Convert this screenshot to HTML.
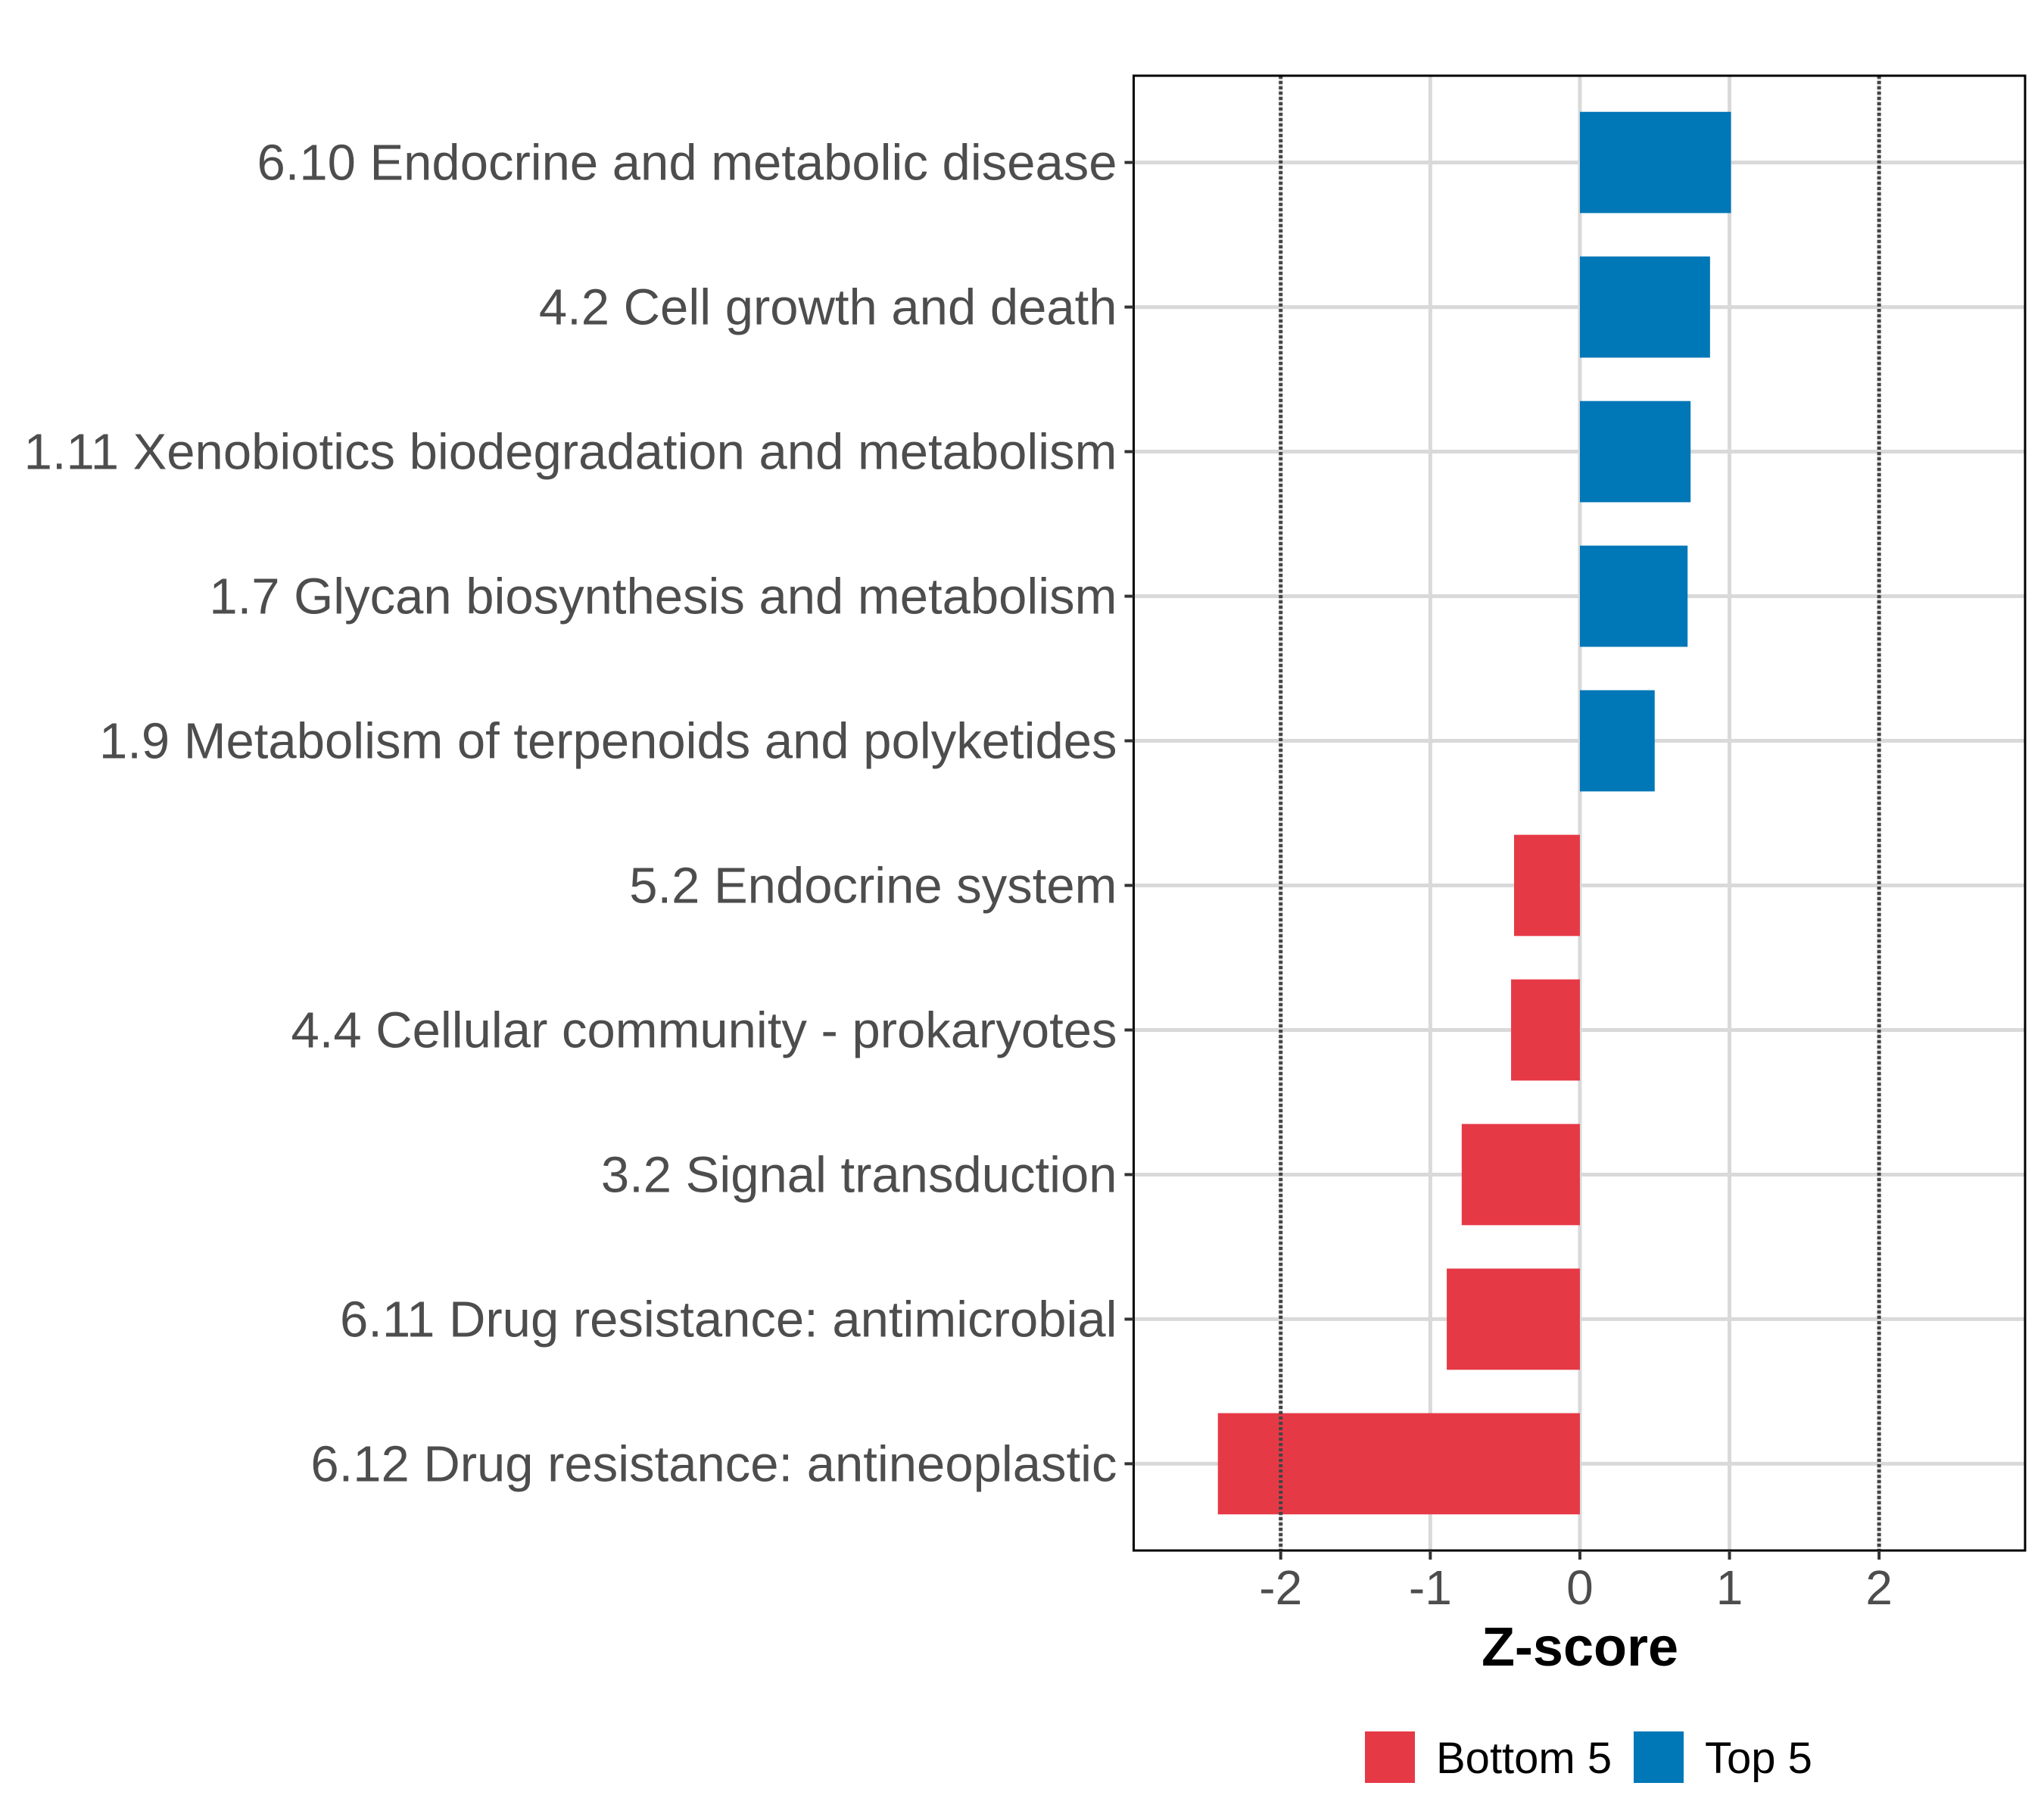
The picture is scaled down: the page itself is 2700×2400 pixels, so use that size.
<!DOCTYPE html>
<html><head><meta charset="utf-8"><style>
html,body{margin:0;padding:0;background:#fff;}
svg{display:block;font-family:"Liberation Sans",sans-serif;}
</style></head><body>
<svg id="chart" width="2700" height="2400" viewBox="0 0 2700 2400">
<g id="grid"></g>
<g id="bars"></g>
<g id="axes"></g>
<text x="2087" y="2200" text-anchor="middle" font-size="72" font-weight="bold" fill="#000">Z-score</text>
<g>
<rect x="1803" y="2287" width="66" height="68" fill="#E63946"/>
<text x="1897" y="2342" font-size="58" fill="#000">Bottom 5</text>
<rect x="2158" y="2287" width="66" height="68" fill="#0077B6"/>
<text x="2252" y="2342" font-size="58" fill="#000">Top 5</text>
</g>
</svg>
<script>
const categories = ["6.10 Endocrine and metabolic disease","4.2 Cell growth and death","1.11 Xenobiotics biodegradation and metabolism","1.7 Glycan biosynthesis and metabolism","1.9 Metabolism of terpenoids and polyketides","5.2 Endocrine system","4.4 Cellular community - prokaryotes","3.2 Signal transduction","6.11 Drug resistance: antimicrobial","6.12 Drug resistance: antineoplastic"];
const zscores = [1.01, 0.87, 0.74, 0.72, 0.50, -0.44, -0.46, -0.79, -0.89, -2.42];
const xTicks = [-2, -1, 0, 1, 2];
const thresholds = [-2, 2];

const NS = "http://www.w3.org/2000/svg";
const L = 1497.5, R = 2675, T = 100, B = 2048;
const xMin = -2.983, xMax = 2.976;
const x = v => L + (v - xMin) / (xMax - xMin) * (R - L);
const step = (B - T) / (categories.length + 0.2);
const y = i => T + step * (0.6 + i);
const bh = step * 0.7;
function mk(tag, attrs, parent){const e=document.createElementNS(NS,tag);for(const k in attrs)e.setAttribute(k,attrs[k]);parent.appendChild(e);return e;}
const grid=document.getElementById('grid'), bars=document.getElementById('bars'), axes=document.getElementById('axes');

xTicks.forEach(t=>{
  const l=mk('line',{x1:x(t),x2:x(t),y1:T,y2:B,stroke:'#d9d9d9','stroke-width':5},grid);
  
  
});
categories.forEach((c,i)=>{
  const l=mk('line',{x1:L,x2:R,y1:y(i),y2:y(i),stroke:'#d9d9d9','stroke-width':5},grid);
  
  
});
zscores.forEach((v,i)=>{
  const x0=Math.min(x(0),x(v)), w=Math.abs(x(v)-x(0));
  const r=mk('rect',{x:x0,y:y(i)-bh/2,width:w,height:bh,fill:v>=0?'#0077B6':'#E63946'},bars);
  
  
});
thresholds.forEach(t=>{
  const l=mk('line',{x1:x(t),x2:x(t),y1:T,y2:B,stroke:'#444','stroke-width':5,'stroke-dasharray':'4 3'},bars);
  
  
});
const border=mk('rect',{x:L,y:T,width:R-L,height:B-T,fill:'none',stroke:'#000','stroke-width':3},axes);


xTicks.forEach(t=>{
  mk('line',{x1:x(t),x2:x(t),y1:B,y2:B+12,stroke:'#333','stroke-width':4},axes);
  const tx=mk('text',{x:x(t),y:2119,'text-anchor':'middle','font-size':64,fill:'#4d4d4d'},axes);
  tx.textContent=t;
  
  
});
categories.forEach((c,i)=>{
  mk('line',{x1:L-12,x2:L,y1:y(i),y2:y(i),stroke:'#333','stroke-width':4},axes);
  const tx=mk('text',{x:L-22,y:y(i)+23,'text-anchor':'end','font-size':67,fill:'#4d4d4d'},axes);
  tx.textContent=c;
  
  
});
</script>
</body></html>
